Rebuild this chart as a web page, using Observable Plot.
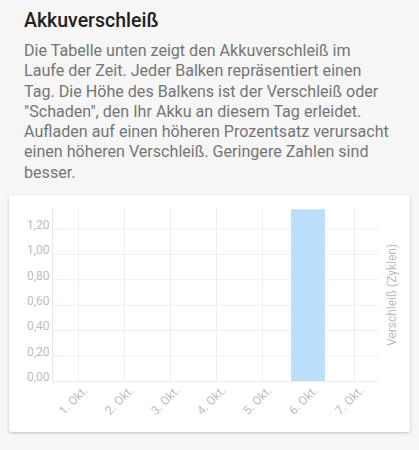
<!DOCTYPE html>
<html>
<head>
<meta charset="utf-8">
<script src="https://cdn.jsdelivr.net/npm/d3@7"></script>
<script src="https://cdn.jsdelivr.net/npm/@observablehq/plot@0.6"></script>
<style>
  html, body { margin: 0; padding: 0; }
  body { width: 419px; height: 450px; background: #f6f6f6; position: relative; overflow: hidden; font-family: Roboto, "Noto Sans", sans-serif; }
  #title { position: absolute; left: 24px; top: 10px; font-size: 19.5px; line-height: 22px; font-weight: 500; color: #212121; }
  #desc { position: absolute; left: 24px; top: 41px; font-size: 16.1px; line-height: 20.3px; color: #757575; white-space: nowrap; }
  #card { position: absolute; left: 9px; top: 195px; width: 401px; height: 237px; background: #fff; border-radius: 3px; box-shadow: 0 1px 3px rgba(0,0,0,0.22); overflow: hidden; }
  #card svg { position: absolute; left: 0; top: 0; }
</style>
</head>
<body>
<div id="title">Akkuverschleiß</div>
<div id="desc">Die Tabelle unten zeigt den Akkuverschleiß im<br>Laufe der Zeit. Jeder Balken repräsentiert einen<br>Tag. Die Höhe des Balkens ist der Verschleiß oder<br>"Schaden", den Ihr Akku an diesem Tag erleidet.<br>Aufladen auf einen höheren Prozentsatz verursacht<br>einen höheren Verschleiß. Geringere Zahlen sind<br>besser.</div>
<div id="card"></div>
<script>
const days = ["1. Okt.", "2. Okt.", "3. Okt.", "4. Okt.", "5. Okt.", "6. Okt.", "7. Okt."];
const wear = [0, 0, 0, 0, 0, 1.35, 0];
const yTicks = [0, 0.2, 0.4, 0.6, 0.8, 1.0, 1.2];
const yLabel = "Verschleiß (Zyklen)";

const data = days.map((d, i) => ({day: d, value: wear[i]}));
const fmt = v => v.toFixed(2).replace(".", ",");

const chart = Plot.plot({
  width: 401,
  height: 237,
  marginLeft: 43,
  marginRight: 31,
  marginTop: 13,
  marginBottom: 51,
  style: {color: "#bdbdbd", fontFamily: "Roboto, sans-serif", background: "transparent", overflow: "visible"},
  x: {domain: days, padding: 0, label: null},
  y: {domain: [0, 1.36], label: null},
  marks: [
    Plot.gridY(yTicks, {stroke: "#eeeeee", strokeOpacity: 1}),
    Plot.gridX(days, {stroke: "#eeeeee", strokeOpacity: 1}),
    Plot.frame({anchor: "left", stroke: "#e6e6e6"}),
    Plot.barY(data, {x: "day", y: "value", fill: "#bbdefb", insetLeft: 6, insetRight: 6}),
    Plot.axisY(yTicks, {tickSize: 0, tickPadding: 3, tickFormat: fmt, fontSize: 12, dy: -4, label: null}),
    Plot.axisX({tickRotate: -45, tickSize: 0, tickPadding: 7, fontSize: 12, dx: 7, label: null}),
    Plot.text([yLabel], {frameAnchor: "right", rotate: -90, dx: 13, fontSize: 12, fill: "#bdbdbd", textAnchor: "middle", lineAnchor: "middle"})
  ]
});
document.getElementById("card").appendChild(chart);
</script>
</body>
</html>
